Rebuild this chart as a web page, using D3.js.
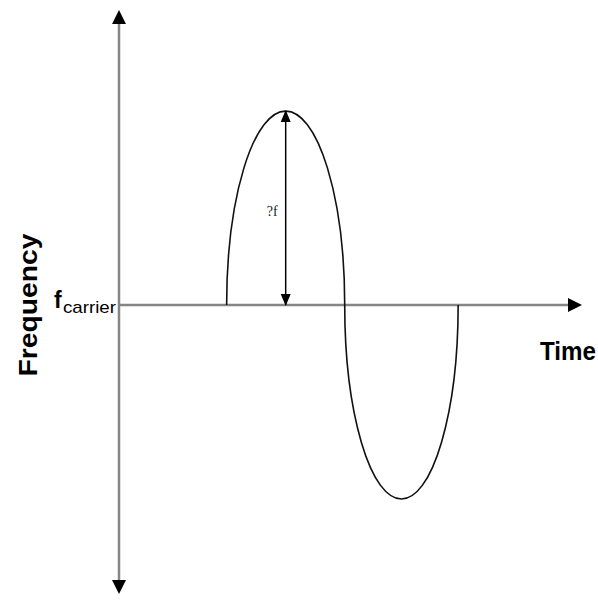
<!DOCTYPE html>
<html>
<head>
<meta charset="utf-8">
<script src="https://cdn.jsdelivr.net/npm/d3@7"></script>
<style>
  html, body { margin: 0; padding: 0; background: #fff; }
  svg { display: block; }
</style>
</head>
<body>
<svg id="chart"></svg>
<script>
// zero crossings of the modulating wave (time units) and the deviation of each half cycle
const crossings = [0.93, 1.95, 2.93]
const halfCycles = [1, -1]
// axis extents in data units
const timeExtent = [0, 4]
const freqExtent = [-1.49, 1.52]
const axisTitles = ["Time", "Frequency"]
const carrierLabel = ["f", "carrier"]
const deviationLabel = "?f"

const width = 598, height = 601

const x = d3.scaleLinear().domain([0, 4]).range([119, 582])
const y = d3.scaleLinear().domain([-1, 1]).range([499, 111])

const svg = d3.select("#chart").attr("width", width).attr("height", height)

const defs = svg.append("defs")
defs.append("marker")
  .attr("id", "axisHead")
  .attr("markerUnits", "userSpaceOnUse")
  .attr("viewBox", "0 -8 16 16")
  .attr("markerWidth", 16).attr("markerHeight", 16)
  .attr("refX", 4).attr("refY", 0)
  .attr("orient", "auto-start-reverse")
  .append("path").attr("d", "M0,-7L14,0L0,7Z").attr("fill", "#000")

defs.append("marker")
  .attr("id", "devHead")
  .attr("markerUnits", "userSpaceOnUse")
  .attr("viewBox", "0 -6 12 12")
  .attr("markerWidth", 12).attr("markerHeight", 12)
  .attr("refX", 11).attr("refY", 0)
  .attr("orient", "auto-start-reverse")
  .append("path").attr("d", "M0,-5L12,0L0,5Z").attr("fill", "#000")

// axes
const axisColor = "#858585"
svg.append("line")
  .attr("x1", x(0)).attr("x2", x(0))
  .attr("y1", y(freqExtent[0]) - 10).attr("y2", y(freqExtent[1]) + 10)
  .attr("stroke", axisColor).attr("stroke-width", 2.5)
  .attr("marker-start", "url(#axisHead)")
  .attr("marker-end", "url(#axisHead)")

svg.append("line")
  .attr("x1", x(timeExtent[0])).attr("x2", x(timeExtent[1]) - 10)
  .attr("y1", y(0)).attr("y2", y(0))
  .attr("stroke", axisColor).attr("stroke-width", 2.5)
  .attr("marker-end", "url(#axisHead)")

// the wave, one elliptical arc for each half cycle
const path = d3.path()
path.moveTo(x(crossings[0]), y(0))
halfCycles.forEach((dev, i) => {
  const x0 = x(crossings[i]), x1 = x(crossings[i + 1])
  const rx = (x1 - x0) / 2, ry = Math.abs(y(dev) - y(0))
  path._ += `A${rx},${ry},0,0,${dev > 0 ? 1 : 0},${x1},${y(0)}`
})
svg.append("path")
  .attr("d", path.toString())
  .attr("fill", "none")
  .attr("stroke", "#111")
  .attr("stroke-width", 1.6)

// deviation arrow at the first peak
const peakX = x((crossings[0] + crossings[1]) / 2)
svg.append("line")
  .attr("x1", peakX).attr("x2", peakX)
  .attr("y1", y(halfCycles[0])).attr("y2", y(0))
  .attr("stroke", "#000").attr("stroke-width", 1.5)
  .attr("marker-start", "url(#devHead)")
  .attr("marker-end", "url(#devHead)")

svg.append("text")
  .attr("x", peakX - 19).attr("y", 216)
  .attr("font-family", "Liberation Serif, Times New Roman, serif")
  .attr("font-size", 14)
  .attr("fill", "#222")
  .text(deviationLabel)

// labels
svg.append("text")
  .attr("x", 540).attr("y", 360)
  .attr("font-family", "Liberation Sans, Arial, sans-serif")
  .attr("font-weight", "bold")
  .attr("font-size", 25)
  .attr("textLength", 56)
  .attr("lengthAdjust", "spacingAndGlyphs")
  .text(axisTitles[0])

svg.append("text")
  .attr("transform", `translate(37,${y(0)}) rotate(-90)`)
  .attr("text-anchor", "middle")
  .attr("font-family", "Liberation Sans, Arial, sans-serif")
  .attr("font-weight", "bold")
  .attr("font-size", 25)
  .attr("textLength", 143)
  .attr("lengthAdjust", "spacingAndGlyphs")
  .text(axisTitles[1])

svg.append("text")
  .attr("x", 54).attr("y", 308)
  .attr("font-family", "Liberation Sans, Arial, sans-serif")
  .attr("font-weight", "bold")
  .attr("font-size", 23)
  .text(carrierLabel[0])

svg.append("text")
  .attr("x", 63).attr("y", 313)
  .attr("font-family", "Liberation Sans, Arial, sans-serif")
  .attr("font-size", 17)
  .attr("textLength", 53)
  .attr("lengthAdjust", "spacingAndGlyphs")
  .text(carrierLabel[1])
</script>
</body>
</html>
